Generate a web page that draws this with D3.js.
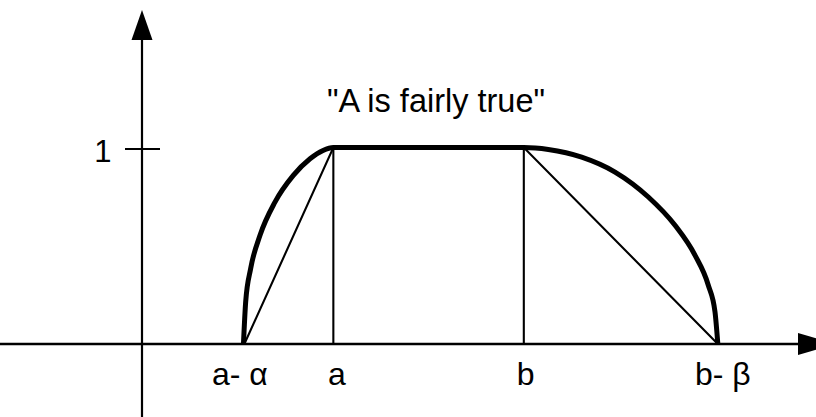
<!DOCTYPE html>
<html><head><meta charset="utf-8">
<script src="https://cdn.jsdelivr.net/npm/d3@7"></script>
<style>html,body{margin:0;padding:0;background:#fff;} svg{display:block;}</style>
</head><body><svg id="chart" width="816" height="417"></svg>
<script>
// ---- data ----
const title = '"A is fairly true"';
const xTickNames = ["a- α", "a", "b", "b- β"];
const xTickValues = [1.15, 2.15, 4.29, 6.47];
const yTickNames = ["1"];
const yTickValues = [1];
// membership function of A (trapezoid)
const trapX = [1.15, 2.15, 4.29, 6.47];
const trapY = [0, 1, 1, 0];
// "fairly true" modified membership (thick curve)
const fairlyX = [1.14, 1.165, 1.221, 1.326, 1.494, 1.700, 1.888, 2.034, 2.15,
                 4.29, 4.565, 4.94, 5.315, 5.689, 5.989, 6.213, 6.363, 6.438, 6.47];
const fairlyY = [0, 0.215, 0.384, 0.553, 0.722, 0.858, 0.943, 0.985, 1,
                 1, 0.99, 0.951, 0.875, 0.748, 0.604, 0.452, 0.299, 0.164, 0];

// ---- layout ----
const labelDx = [-4.5, 3.5, 1.8, 5];
const svg = d3.select("#chart");
const x = d3.scaleLinear().domain([0, 1]).range([142, 231]);
const y = d3.scaleLinear().domain([0, 1]).range([344, 147.5]);
const font = "'Liberation Sans', Arial, Helvetica, sans-serif";

// axes
svg.append("line").attr("x1", 0).attr("x2", 800).attr("y1", y(0)).attr("y2", y(0))
  .attr("stroke", "#000").attr("stroke-width", 2.4);
svg.append("path").attr("d", `M798,${y(0)-11} L836,${y(0)} L798,${y(0)+11} Z`).attr("fill", "#000");
svg.append("line").attr("x1", x(0)).attr("x2", x(0)).attr("y1", 417).attr("y2", 38)
  .attr("stroke", "#000").attr("stroke-width", 2.2);
svg.append("path").attr("d", `M${x(0)-10.5},40 L${x(0)},10 L${x(0)+10.5},40 Z`).attr("fill", "#000");

// y tick
yTickValues.forEach((v, i) => {
  svg.append("line").attr("x1", x(0) - 17).attr("x2", x(0) + 18)
    .attr("y1", y(v) + 1.5).attr("y2", y(v) + 1.5).attr("stroke", "#000").attr("stroke-width", 2.2);
  svg.append("text").attr("x", 111.5).attr("y", y(v) + 14.5).attr("text-anchor", "end")
    .attr("font-family", font).attr("font-size", 31).text(yTickNames[i]);
});

// x labels
xTickValues.forEach((v, i) => {
  svg.append("text").attr("x", x(v) + labelDx[i]).attr("y", 385).attr("text-anchor", "middle")
    .attr("font-family", font).attr("font-size", 32).text(xTickNames[i]);
});

// trapezoid (thin)
const lin = d3.line().x((d, i) => x(trapX[i])).y((d, i) => y(trapY[i]));
svg.append("path").attr("d", lin(trapX)).attr("fill", "none")
  .attr("stroke", "#000").attr("stroke-width", 2.1).attr("stroke-linejoin", "miter");
[1, 2].forEach(i => {
  svg.append("line").attr("x1", x(trapX[i])).attr("x2", x(trapX[i]))
    .attr("y1", y(0)).attr("y2", y(trapY[i])).attr("stroke", "#000").attr("stroke-width", 2.1);
});

// fairly true curve (thick)
const curve = d3.line().x((d, i) => x(fairlyX[i])).y((d, i) => y(fairlyY[i])).curve(d3.curveMonotoneX);
svg.append("path").attr("d", curve(fairlyX)).attr("fill", "none")
  .attr("stroke", "#000").attr("stroke-width", 5).attr("stroke-linejoin", "round");

// title
svg.append("text").attr("x", 436).attr("y", 111.5).attr("text-anchor", "middle")
  .attr("font-family", font).attr("font-size", 32.5).text(title);
</script>
</body></html>
